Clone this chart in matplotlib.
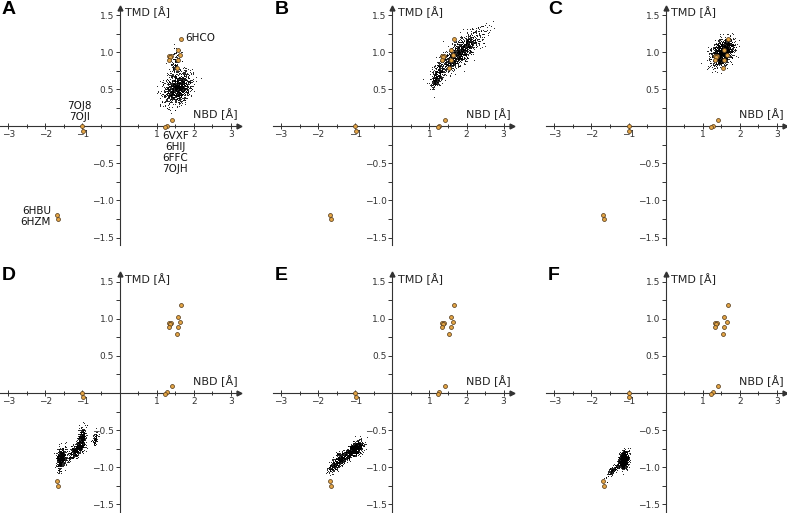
import numpy as np
import matplotlib
matplotlib.use("Agg")
import matplotlib.pyplot as plt

# ---------------- data ----------------
panel_letters = ["A", "B", "C", "D", "E", "F"]

# experimental structures (orange markers), same in every panel
struct_nbd = [1.67, 1.58, 1.64, 1.33, 1.39, 1.36, 1.33, 1.58, 1.54,
              1.41, 1.27, 1.23, -1.00, -0.98, -1.68, -1.66]
struct_tmd = [1.18, 1.03, 0.96, 0.95, 0.95, 0.93, 0.89, 0.89, 0.79,
              0.09, 0.01, -0.01, 0.00, -0.06, -1.19, -1.25]

# simulated ensembles: components (centre NBD, centre TMD, sd NBD, sd TMD, corr, n)
cloud_A = [(1.56, 0.53, 0.19, 0.11, 0.35, 1100), (1.50, 0.86, 0.07, 0.12, 0.3, 110)]
cloud_B = [(1.20, 0.68, 0.08, 0.08, 0.55, 280), (1.80, 0.99, 0.30, 0.15, 0.82, 1150)]
cloud_C = [(1.52, 1.00, 0.15, 0.09, 0.35, 1300)]
cloud_D = [(-1.58, -0.88, 0.06, 0.07, 0.2, 480), (-1.02, -0.62, 0.055, 0.075, 0.3, 340),
           (-1.15, -0.76, 0.09, 0.045, 0.5, 300), (-0.66, -0.61, 0.04, 0.045, 0.3, 80),
           (-1.35, -0.86, 0.08, 0.045, 0.2, 60)]
cloud_E = [(-1.03, -0.76, 0.11, 0.055, 0.55, 700), (-1.42, -0.90, 0.11, 0.055, 0.55, 380),
           (-1.62, -1.00, 0.07, 0.045, 0.5, 80)]
cloud_F = [(-1.13, -0.90, 0.06, 0.055, 0.2, 900), (-1.40, -1.02, 0.11, 0.055, 0.8, 150)]
clouds = [cloud_A, cloud_B, cloud_C, cloud_D, cloud_E, cloud_F]

# labels shown in panel A: (text, nbd, tmd, ha, va)
labels_A = [("6HCO", 1.78, 1.19, "left", "center"),
            ("7OJ8\n7OJI", -1.09, 0.06, "center", "bottom"),
            ("6VXF\n6HIJ\n6FFC\n7OJH", 1.50, -0.06, "center", "top"),
            ("6HBU\n6HZM", -1.85, -1.22, "right", "center")]

x_ticks = [-3, -2, -1, 1, 2, 3]
y_ticks = [-1.5, -1.0, -0.5, 0.5, 1.0, 1.5]

# ---------------- plotting ----------------
W, H = 787, 513
fig = plt.figure(figsize=(W / 100, H / 100), dpi=100)
plt.rcParams['font.family'] = ['DejaVu Sans']

xlim = (-3.22, 3.22)
ylim = (-1.6, 1.6)
col_left = [0.0, 272.8, 546.2]
col_w = 239.0
row_top = [7.6, 274.3]
row_h = 237.4
axis_col = "#333333"

rng = np.random.default_rng(7)

def sample(comp):
    pts_x, pts_y = [], []
    for (mx, my, sx, sy, r, n) in comp:
        cov = [[sx * sx, r * sx * sy], [r * sx * sy, sy * sy]]
        p = rng.multivariate_normal([mx, my], cov, size=n)
        pts_x.append(p[:, 0]); pts_y.append(p[:, 1])
    return np.concatenate(pts_x), np.concatenate(pts_y)

for i, letter in enumerate(panel_letters):
    r, c = divmod(i, 3)
    left = col_left[c] / W
    bottom = 1 - (row_top[r] + row_h) / H
    ax = fig.add_axes([left, bottom, col_w / W, row_h / H])
    ax.set_xlim(*xlim)
    ax.set_ylim(*ylim)
    for s in ["top", "right"]:
        ax.spines[s].set_visible(False)
    ax.spines["left"].set_position(("data", 0))
    ax.spines["bottom"].set_position(("data", 0))
    for s in ["left", "bottom"]:
        ax.spines[s].set_linewidth(0.8)
        ax.spines[s].set_color(axis_col)
    ax.set_xticks(x_ticks)
    ax.set_xticklabels([f"{t:g}".replace("-", "\u2212") for t in x_ticks])
    ax.set_yticks(y_ticks)
    ax.set_yticklabels([f"{t:.1f}".replace("-", "\u2212") for t in y_ticks])
    ax.set_xticks(np.arange(-3, 3.01, 0.5), minor=True)
    ax.set_yticks(np.arange(-1.5, 1.51, 0.25), minor=True)
    ax.tick_params(axis="x", which="both", direction="inout", length=4, width=0.7,
                   labelsize=6.5, colors=axis_col, pad=1)
    ax.tick_params(axis="y", which="both", direction="out", length=3, width=0.7,
                   labelsize=6.5, colors=axis_col, pad=1)
    ax.tick_params(which="minor", length=3)
    # arrows
    ax.plot(1, 0, ">", color=axis_col, markersize=3.5, transform=ax.get_yaxis_transform(), clip_on=False)
    ax.plot(0, 1, "^", color=axis_col, markersize=3.5, transform=ax.get_xaxis_transform(), clip_on=False)
    # axis labels
    ax.text(3.19, 0.16, "NBD [Å]", ha="right", va="center", fontsize=8, color="#222222")
    ax.text(0.15, 1.54, "TMD [Å]", ha="left", va="center", fontsize=8, color="#222222")
    # ensemble cloud
    cx, cy = sample(clouds[i])
    ax.scatter(cx, cy, s=0.45, color="black", alpha=0.85, linewidths=0, zorder=3)
    # structures
    ax.scatter(struct_nbd, struct_tmd, s=8, facecolor="#E3A444", edgecolor="#5a4020",
               linewidths=0.55, zorder=4)
    if i == 0:
        for (t, x, y, ha, va) in labels_A:
            ax.text(x, y, t, ha=ha, va=va, fontsize=7.5, linespacing=1.15, color="#111111", zorder=5)
    fig.text(left + 2 / W, 1 - (row_top[r] - 7) / H, letter, ha="left", va="top",
             fontsize=14, fontweight="bold", family="Liberation Sans")

fig.savefig("out.png", dpi=100)
